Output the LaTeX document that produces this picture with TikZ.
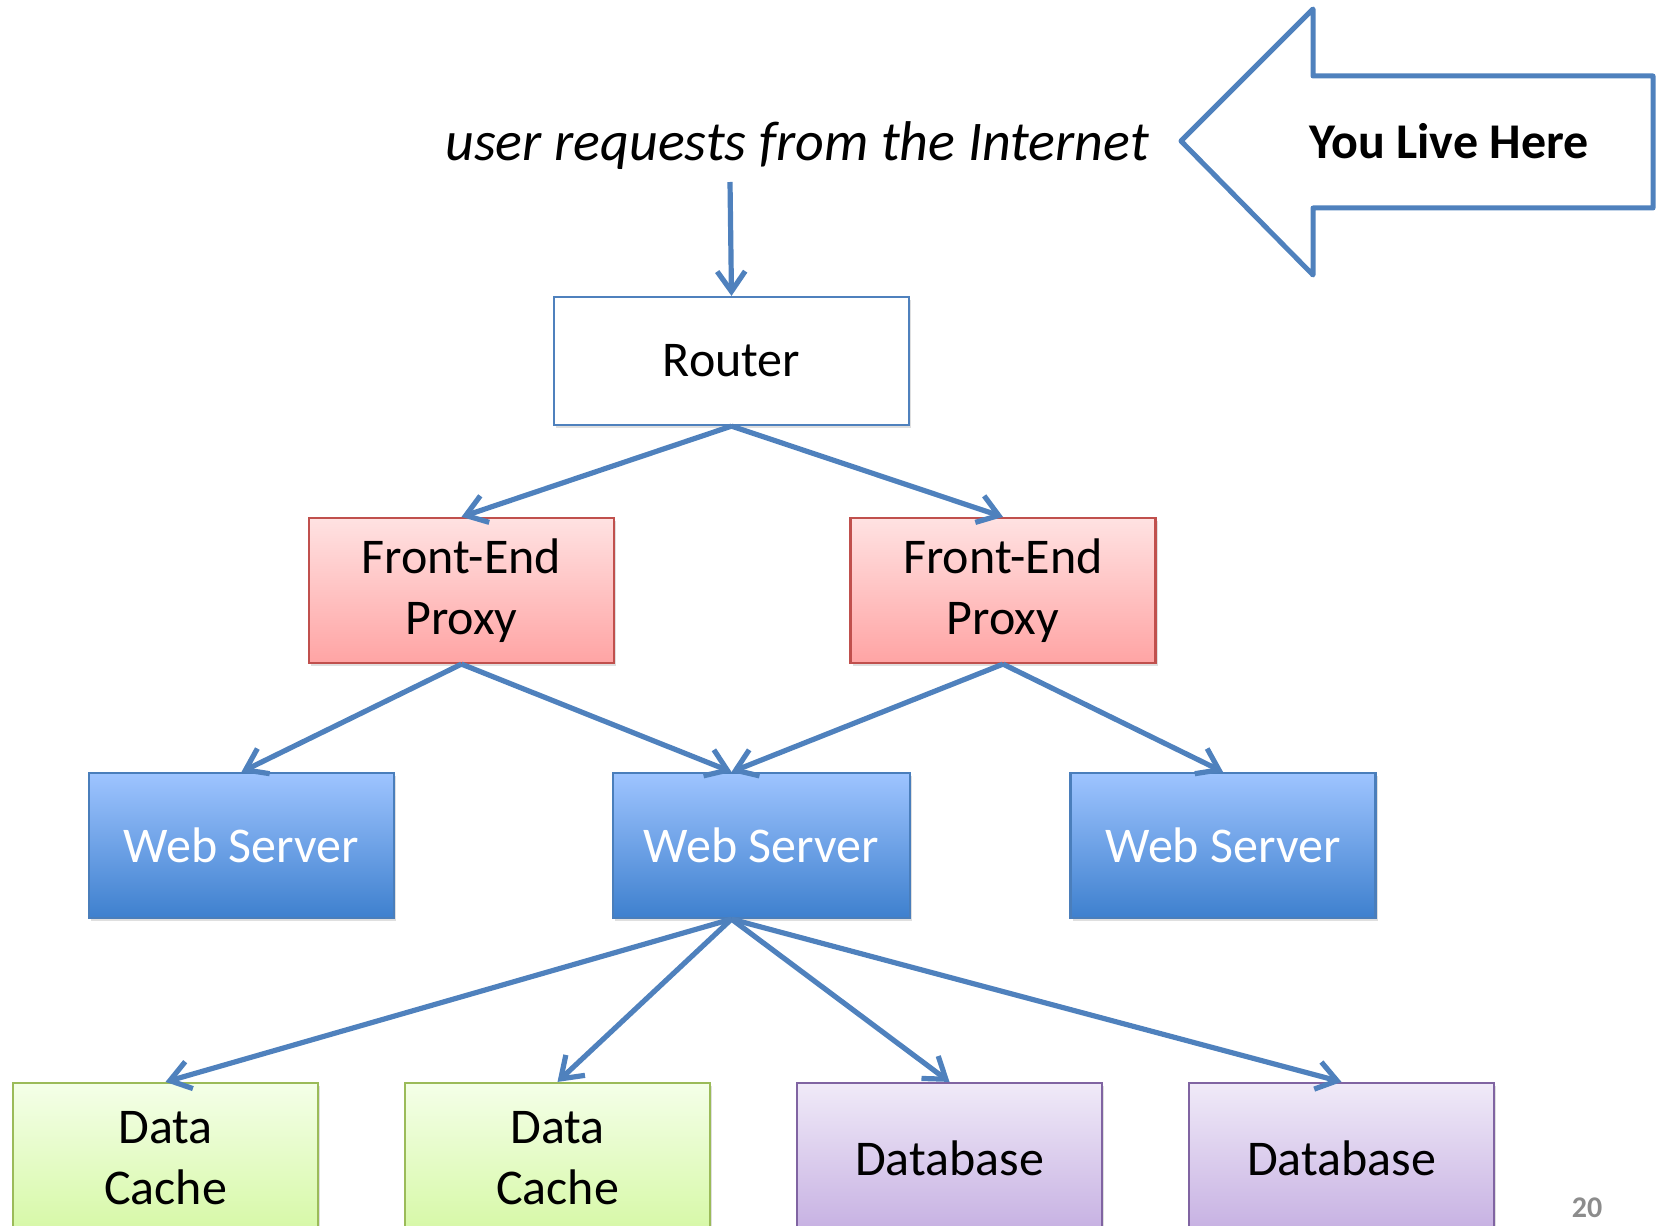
\documentclass[tikz,border=0pt]{standalone}
\usepackage{fontspec}
\setmainfont{Carlito}
\usetikzlibrary{arrows.meta,shadows}

\definecolor{linkblue}{RGB}{79,129,189}
\definecolor{proxyline}{RGB}{192,80,77}
\definecolor{proxytop}{RGB}{255,226,226}
\definecolor{proxybot}{RGB}{255,164,164}
\definecolor{webline}{RGB}{74,126,187}
\definecolor{webtop}{RGB}{158,196,255}
\definecolor{webbot}{RGB}{62,128,206}
\definecolor{cacheline}{RGB}{155,187,89}
\definecolor{cachetop}{RGB}{244,255,232}
\definecolor{cachebot}{RGB}{214,248,166}
\definecolor{dbline}{RGB}{128,100,162}
\definecolor{dbtop}{RGB}{240,234,248}
\definecolor{dbbot}{RGB}{198,176,226}

\tikzset{
  box/.style={draw, line width=1.1pt, minimum width=152.5pt, minimum height=72.5pt,
    inner sep=0pt, align=center, font=\fontsize{25}{30.5}\selectfont,
    drop shadow={opacity=0.25, shadow xshift=1.2pt, shadow yshift=-1.5pt}},
  proxybox/.style={box, draw=proxyline, top color=proxytop, bottom color=proxybot},
  webbox/.style={box, draw=webline, top color=webtop, bottom color=webbot, text=white},
  cachebox/.style={box, draw=cacheline, top color=cachetop, bottom color=cachebot, minimum height=75pt},
  dbbox/.style={box, draw=dbline, top color=dbtop, bottom color=dbbot, minimum height=75pt},
  link/.style={draw=linkblue, line width=2.6pt, -{Straight Barb[length=10pt,width=14pt]}},
}

\begin{document}
\begin{tikzpicture}[x=0.5pt,y=0.5pt,yscale=-1,xscale=1]
\useasboundingbox (0,0) rectangle (1658,1225);
\clip (0,0) rectangle (1658,1225);

%Shape: Big Arrow
\draw [draw=linkblue, line width=2.5pt, line join=round] (1181,141) -- (1313,9) -- (1313,76) -- (1653,76) -- (1653,208) -- (1313,208) -- (1313,275) -- cycle ;
% Text Node
\node (here) at (1449,141) [inner sep=0pt, font=\fontsize{25}{30}\selectfont\bfseries] {You Live Here};
% Text Node
\node (inet) at (797,146) [inner sep=0pt, font=\fontsize{28}{33}\selectfont\itshape] {user requests from the Internet};
\coordinate (src) at (730,182);

%Shape: Router
\node (router) at (731.5,361) [box, draw=linkblue, fill=white, minimum width=177.5pt, minimum height=64pt] {Router};
%Shape: Front-End Proxies
\node (fe1) at (461.5,590.5) [proxybox] {Front-End\\Proxy};
\node (fe2) at (1003,590.5) [proxybox] {Front-End\\Proxy};
%Shape: Web Servers
\node (ws1) at (241.5,845.5) [webbox] {Web Server};
\node (ws2) at (761.5,845.5) [webbox, minimum width=148.5pt] {Web Server};
\node (ws3) at (1223,845.5) [webbox] {Web Server};
%Shape: Caches and Databases
\node (dc1) at (165.5,1158) [cachebox] {Data\\Cache};
\node (dc2) at (557.5,1158) [cachebox] {Data\\Cache};
\node (db1) at (949.5,1158) [dbbox] {Database};
\node (db2) at (1341.5,1158) [dbbox] {Database};

%Connectors
\draw [link] (src) -- (router.north);
\draw [link] (router.south) -- (fe1.north);
\draw [link] (router.south) -- (fe2.north);
\draw [link] (fe1.south) -- (ws1.north);
\draw [link] (fe1.south) -- (ws2.north -| router.south);
\draw [link] (fe2.south) -- (ws2.north -| router.south);
\draw [link] (fe2.south) -- (ws3.north);
\draw [link] (ws2.south -| router.south) -- (dc1.north);
\draw [link] (ws2.south -| router.south) -- (dc2.north);
\draw [link] (ws2.south -| router.south) -- (db1.north);
\draw [link] (ws2.south -| router.south) -- (db2.north);

% Text Node
\node (page) at (1587,1208) [inner sep=0pt, text=black!45, font=\fontsize{15}{17}\selectfont\bfseries] {20};

\end{tikzpicture}
\end{document}
